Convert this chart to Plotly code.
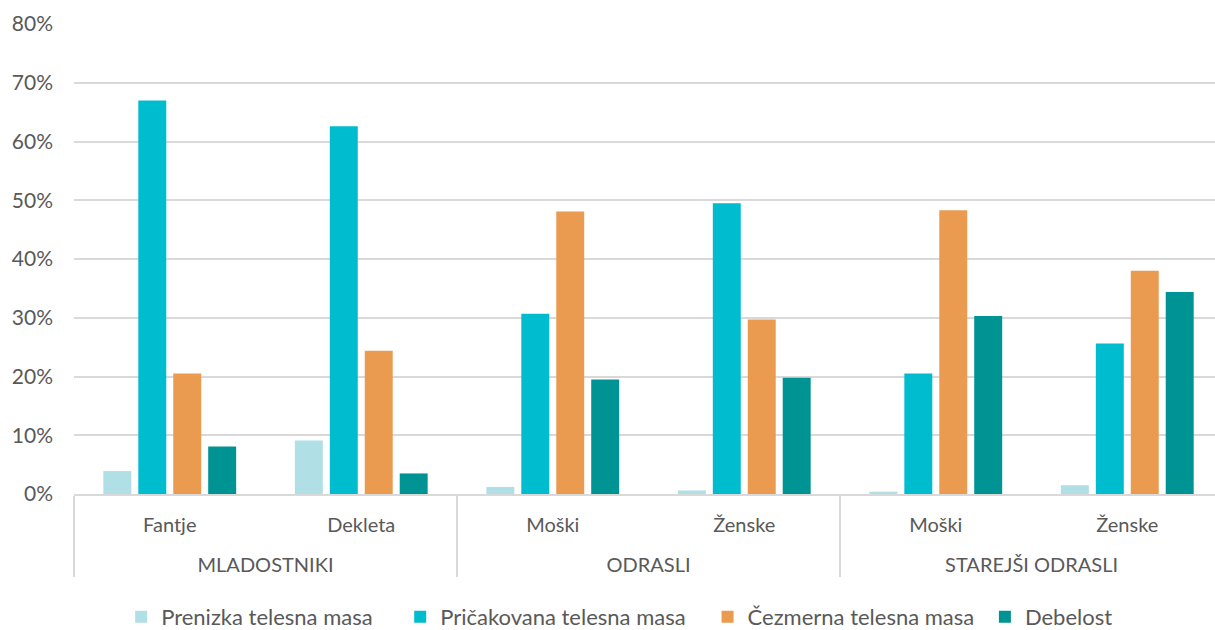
import plotly.graph_objects as go

groups = ["MLADOSTNIKI", "MLADOSTNIKI", "ODRASLI", "ODRASLI", "STAREJŠI ODRASLI", "STAREJŠI ODRASLI"]
subcats = ["Fantje", "Dekleta", "Moški", "Ženske", "Moški", "Ženske"]

series_names = ["Prenizka telesna masa", "Pričakovana telesna masa", "Čezmerna telesna masa", "Debelost"]
prenizka = [3.9, 9.1, 1.2, 0.6, 0.4, 1.5]
pricakovana = [67.0, 62.6, 30.7, 49.5, 20.5, 25.6]
cezmerna = [20.5, 24.4, 48.1, 29.7, 48.3, 38.0]
debelost = [8.1, 3.5, 19.5, 19.8, 30.3, 34.4]
colors = ["#B0DFE5", "#00BCCF", "#EA9B50", "#009393"]

y_ticks = [0, 10, 20, 30, 40, 50, 60, 70, 80]
y_ticktext = [f"{v}%" for v in y_ticks]

# leading blank (non-breaking space) line above the group labels widens the gap between label rows
group_labels = ["\u00a0<br>" + g for g in groups]
# trailing non-breaking spaces widen the spacing between legend entries
legend_pad = [4, 3, 1, 0]

fig = go.Figure()
for name, vals, col, pad in zip(series_names, [prenizka, pricakovana, cezmerna, debelost], colors, legend_pad):
    fig.add_trace(go.Bar(
        x=[group_labels, subcats], y=vals, name=name + "\u00a0" * pad,
        marker=dict(color=col, line=dict(width=0)),
    ))

font_family = "Lato, 'Open Sans', sans-serif"
txt = "#595959"
fig.update_layout(
    width=1215, height=630,
    margin=dict(l=73.5, r=0, t=24, b=136),
    plot_bgcolor="white", paper_bgcolor="white",
    barmode="group", bargap=0.27, bargroupgap=0.2,
    font=dict(family=font_family, size=20, color=txt),
    showlegend=True,
    legend=dict(orientation="h", x=0.51, xanchor="center", xref="container",
                y=13/630, yanchor="middle", yref="container",
                font=dict(size=22, color=txt), traceorder="normal",
                itemwidth=30, bgcolor="rgba(0,0,0,0)"),
    xaxis=dict(
        type="multicategory",
        range=[-0.5, 5.458],
        showline=True, linecolor="#D9D9D9", linewidth=2,
        showdividers=True, dividercolor="#D9D9D9", dividerwidth=2,
        tickfont=dict(size=20, color=txt),
        ticks="", ticklabelstandoff=12,
    ),
    yaxis=dict(
        range=[0, 80], tickvals=y_ticks, ticktext=y_ticktext,
        showgrid=True, gridcolor="#D9D9D9", gridwidth=1.5,
        zeroline=False, showline=False, ticks="", ticklabelstandoff=20,
        tickfont=dict(size=21, color=txt),
    ),
)

fig.write_html("out.html", config={"displayModeBar": False},
               post_script="document.body.style.margin='0';")
